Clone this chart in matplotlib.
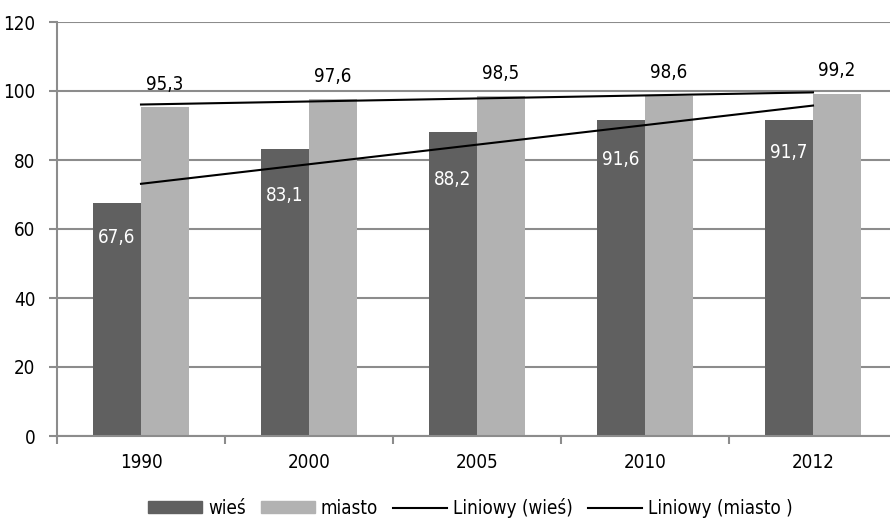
import numpy as np
import matplotlib
matplotlib.use('Agg')
import matplotlib.pyplot as plt
from matplotlib.patches import Patch
from matplotlib.lines import Line2D

# Czcionka zwężona
plt.rcParams['font.family'] = ['DejaVu Sans']
plt.rcParams['font.stretch'] = 'condensed'

# Dane
lata = ['1990', '2000', '2005', '2010', '2012']
wies = [67.6, 83.1, 88.2, 91.6, 91.7]
miasto = [95.3, 97.6, 98.5, 98.6, 99.2]
y_ticks = [0, 20, 40, 60, 80, 100, 120]

# Przesunięcie etykiet "wieś" w dół od szczytu słupka (px) - ręcznie ustawione w oryginale
przes_wies = [35, 46, 48, 40, 33]

ciemny = '#606060'
jasny = '#b2b2b2'
siatka = '#8c8c8c'
rozm = 13.5

fig = plt.figure(figsize=(8.9, 5.25), dpi=100)
ax = fig.add_axes([57 / 890, 1 - 436 / 525, 840 / 890, 414 / 525])

x = np.arange(len(lata))
w = 0.286
b1 = ax.bar(x - w / 2, wies, w, color=ciemny, zorder=2)
b2 = ax.bar(x + w / 2, miasto, w, color=jasny, zorder=2)

# Linie trendu (liniowe, jak w Excelu)
for dane in (wies, miasto):
    a, b = np.polyfit(x + 1, dane, 1)
    ax.plot([x[0], x[-1]], [a * 1 + b, a * len(x) + b], color='black', lw=1.5, zorder=3)

# Etykiety danych
for barra, v, p in zip(b1, wies, przes_wies):
    ax.annotate(f'{v:.1f}'.replace('.', ','), (barra.get_x() + barra.get_width() / 2, v),
                xytext=(0, -p * 0.72), textcoords='offset points', ha='center', va='center',
                color='white', fontsize=rozm, zorder=4)
for barra, v in zip(b2, miasto):
    ax.annotate(f'{v:.1f}'.replace('.', ','), (barra.get_x() + barra.get_width() / 2, v),
                xytext=(0, 23 * 0.72), textcoords='offset points', ha='center', va='center',
                color='black', fontsize=rozm, zorder=4)

ax.set_xlim(-0.5, len(lata) - 0.5)
ax.set_ylim(0, 120)
ax.set_yticks(y_ticks)
ax.set_yticklabels([str(t) for t in y_ticks], fontsize=rozm)
ax.set_xticks(x)
ax.set_xticklabels(lata, fontsize=rozm)
ax.set_xticks(np.arange(len(lata) + 1) - 0.5, minor=True)
ax.tick_params(axis='x', which='major', length=0, pad=12)
ax.tick_params(axis='x', which='minor', length=6, color=siatka, width=1.5, direction='out')
ax.tick_params(axis='y', length=6, color=siatka, width=1.5, pad=9.5)

ax.grid(axis='y', color=siatka, lw=1.5, zorder=0)
ax.set_axisbelow(True)
for s in ['top', 'right']:
    ax.spines[s].set_visible(False)
for s in ['left', 'bottom']:
    ax.spines[s].set_color(siatka)
    ax.spines[s].set_linewidth(1.5)

uchwyty = [Patch(color=ciemny), Patch(color=jasny),
           Line2D([], [], color='black', lw=1.5), Line2D([], [], color='black', lw=1.5)]
fig.legend(uchwyty, ['wieś', 'miasto', 'Liniowy (wieś)', 'Liniowy (miasto )'],
           loc='center', bbox_to_anchor=(470 / 890, 1 - 508 / 525), ncol=4, frameon=False,
           fontsize=rozm, handlelength=2.9, handleheight=0.6, columnspacing=0.8, handletextpad=0.3)

fig.savefig('out.png', dpi=100)
